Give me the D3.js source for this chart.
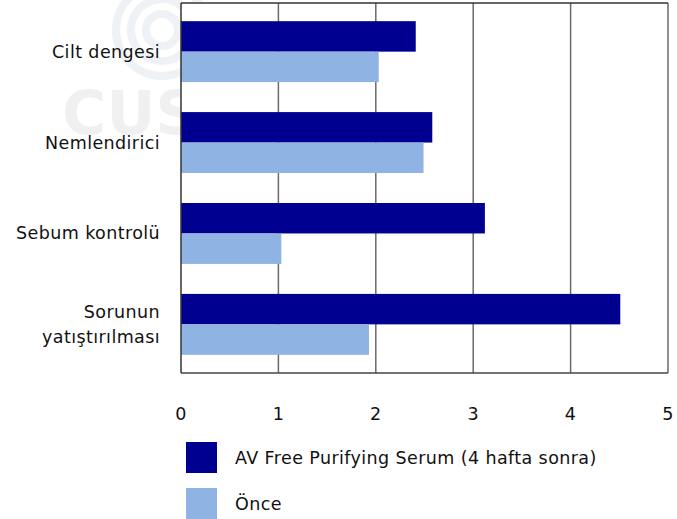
<!DOCTYPE html>
<html>
<head>
<meta charset="utf-8">
<script src="https://cdn.jsdelivr.net/npm/d3@7"></script>
<style>
  body { margin: 0; background: #fff; }
  text { font-family: "DejaVu Sans", sans-serif; fill: #111; letter-spacing: 0.4px; }
</style>
</head>
<body>
<svg width="677" height="519"></svg>
<script>
// data
var categories = ["Cilt dengesi", "Nemlendirici", "Sebum kontrolü", "Sorunun\nyatıştırılması"];
var afterValues = [2.41, 2.58, 3.12, 4.51];
var beforeValues = [2.03, 2.49, 1.03, 1.93];
var seriesNames = ["AV Free Purifying Serum (4 hafta sonra)", "Önce"];
var seriesColors = ["#000090", "#8fb4e3"];
var ticks = [0, 1, 2, 3, 4, 5];

var svg = d3.select("svg");
var plotLeft = 181, plotRight = 668, plotTop = 3, plotBottom = 373;
var fs = "17.5px";

// faint watermark behind the chart
var wm = svg.append("g").attr("class", "watermark");
[16, 31, 46].forEach(function(r) {
  wm.append("circle").attr("cx", 162).attr("cy", 30).attr("r", r)
    .attr("fill", "none").attr("stroke", "#eef1f6").attr("stroke-width", 8);
});
wm.append("text").attr("x", 62).attr("y", 134).text("CUS")
  .style("font-size", "60px").style("font-weight", "bold").style("fill", "#f0f0f0");

var x = d3.scaleLinear().domain([0, 5]).range([plotLeft, plotRight]);
var y = d3.scaleBand().domain(categories).range([plotTop, plotBottom]).paddingInner(0.33).paddingOuter(0.2);
var sub = d3.scaleBand().domain([0, 1]).range([0, y.bandwidth()]);

svg.append("rect").attr("x", plotLeft).attr("y", plotTop)
  .attr("width", plotRight - plotLeft).attr("height", plotBottom - plotTop).attr("fill", "#fff");

// grid
svg.append("g").selectAll("line").data(ticks.slice(1)).enter().append("line")
  .attr("x1", function(d) { return x(d); }).attr("x2", function(d) { return x(d); })
  .attr("y1", plotTop).attr("y2", plotBottom)
  .attr("stroke", "#6a6a6a").attr("stroke-width", 1.5);

var rows = categories.map(function(c, i) { return { cat: c, vals: [afterValues[i], beforeValues[i]] }; });

var g = svg.append("g").selectAll("g").data(rows).enter().append("g")
  .attr("transform", function(d) { return "translate(0," + y(d.cat) + ")"; });

g.selectAll("rect").data(function(d) { return d.vals; }).enter().append("rect")
  .attr("x", x(0))
  .attr("y", function(d, i) { return sub(i); })
  .attr("width", function(d) { return x(d) - x(0); })
  .attr("height", sub.bandwidth())
  .attr("fill", function(d, i) { return seriesColors[i]; });

// frame
svg.append("line").attr("x1", plotLeft).attr("x2", plotRight).attr("y1", plotTop).attr("y2", plotTop)
  .attr("stroke", "#333").attr("stroke-width", 1.5);
svg.append("line").attr("x1", plotLeft).attr("x2", plotLeft).attr("y1", plotTop).attr("y2", plotBottom)
  .attr("stroke", "#333").attr("stroke-width", 1.5);
svg.append("line").attr("x1", plotLeft).attr("x2", plotRight).attr("y1", plotBottom).attr("y2", plotBottom)
  .attr("stroke", "#444").attr("stroke-width", 1.5);

// category labels
g.append("text")
  .attr("text-anchor", "end")
  .style("font-size", fs)
  .each(function(d) {
    var lines = d.cat.split("\n");
    var t = d3.select(this);
    var mid = y.bandwidth() / 2 + 6 - (lines.length - 1) * 12.5;
    lines.forEach(function(l, k) {
      t.append("tspan").attr("x", 160).attr("y", mid + k * 25).text(l);
    });
  });

// x tick labels
svg.append("g").selectAll("text").data(ticks).enter().append("text")
  .attr("x", function(d) { return x(d); }).attr("y", 420)
  .attr("text-anchor", "middle").style("font-size", fs)
  .text(function(d) { return d; });

// legend
var leg = svg.append("g").selectAll("g").data(seriesNames).enter().append("g")
  .attr("transform", function(d, i) { return "translate(186," + (442 + i * 46) + ")"; });
leg.append("rect").attr("width", 31).attr("height", 31)
  .attr("fill", function(d, i) { return seriesColors[i]; });
leg.append("text").attr("x", 49).attr("y", 22).style("font-size", fs)
  .text(function(d) { return d; });
</script>
</body>
</html>
